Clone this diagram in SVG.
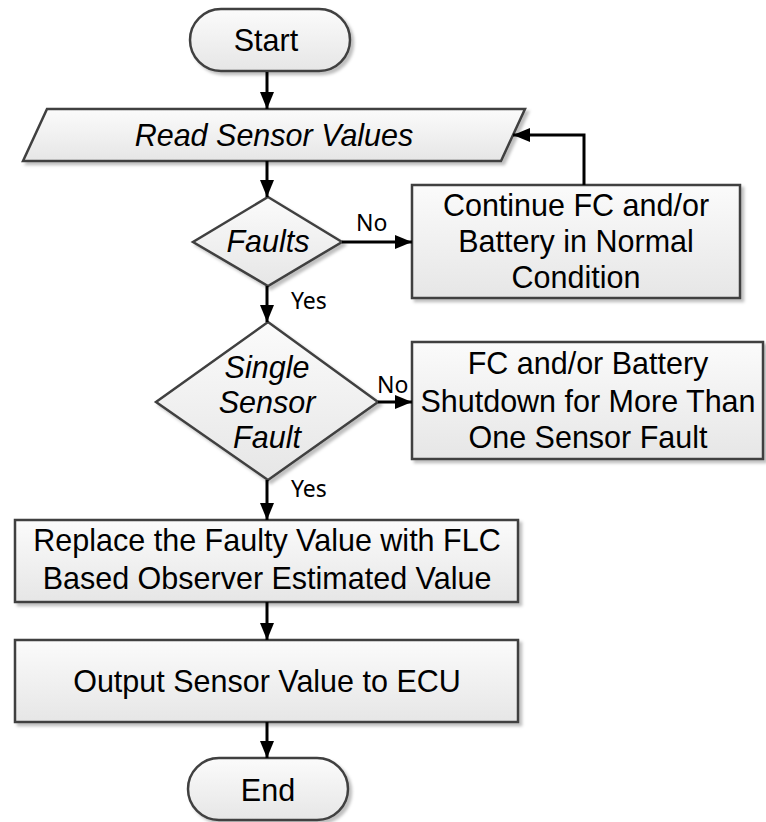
<svg xmlns="http://www.w3.org/2000/svg" width="766" height="822" viewBox="0 0 766 822">
<defs>
<linearGradient id="g" x1="0" y1="0" x2="0" y2="1">
<stop offset="0" stop-color="#fbfbfb"/>
<stop offset="1" stop-color="#e6e6e6"/>
</linearGradient>
<filter id="sh" x="-10%" y="-10%" width="130%" height="130%">
<feDropShadow dx="3" dy="3" stdDeviation="1.5" flood-color="#000" flood-opacity="0.25"/>
</filter>
<marker id="ah" markerUnits="userSpaceOnUse" markerWidth="18" markerHeight="14" refX="17" refY="7" orient="auto">
<path d="M0,0 L17,7 L0,14 Z" fill="#000"/>
</marker>
<style>
.n{fill:url(#g);stroke:#404040;stroke-width:2.5;filter:url(#sh)}
.t{font-family:"Liberation Sans",Arial,sans-serif;font-size:30.5px;fill:#000;text-anchor:middle}
.i{font-style:italic}
.l{font-family:"Noto Sans","Open Sans",sans-serif;font-size:23px;fill:#000}
.c{fill:none;stroke:#000;stroke-width:3;marker-end:url(#ah)}
</style>
</defs>
<rect width="766" height="822" fill="#fff"/>
<g id="start">
<rect class="n" x="190" y="9" width="160" height="62" rx="31"/>
<text class="t" x="266" y="51">Start</text>
</g>
<g id="read">
<polygon class="n" points="47,109 525,109 501,161 23,161"/>
<text class="t i" x="274" y="146">Read Sensor Values</text>
</g>
<g id="faults">
<polygon class="n" points="268,197 342,242 268,286 193,242"/>
<text class="t i" x="268" y="252">Faults</text>
</g>
<g id="continue">
<rect class="n" x="412" y="185" width="328" height="113"/>
<text class="t" x="576" y="216">Continue FC and/or</text>
<text class="t" x="576" y="252">Battery in Normal</text>
<text class="t" x="576" y="288">Condition</text>
</g>
<g id="single">
<polygon class="n" points="268,322 378,402 268,480 156,402"/>
<text class="t i" x="267" y="378">Single</text>
<text class="t i" x="267" y="413">Sensor</text>
<text class="t i" x="267" y="448">Fault</text>
</g>
<g id="shutdown">
<rect class="n" x="412" y="342" width="351" height="117"/>
<text class="t" x="588" y="374">FC and/or Battery</text>
<text class="t" x="588" y="412">Shutdown for More Than</text>
<text class="t" x="588" y="448">One Sensor Fault</text>
</g>
<g id="replace">
<rect class="n" x="15" y="520" width="503" height="82"/>
<text class="t" x="267" y="551">Replace the Faulty Value with FLC</text>
<text class="t" x="267" y="589">Based Observer Estimated Value</text>
</g>
<g id="output">
<rect class="n" x="15" y="640" width="503" height="82"/>
<text class="t" x="267" y="692">Output Sensor Value to ECU</text>
</g>
<g id="end">
<rect class="n" x="188" y="758" width="160" height="62" rx="31"/>
<text class="t" x="268" y="801">End</text>
</g>
<g id="connectors">
<line class="c" x1="267" y1="72" x2="267" y2="109"/>
<line class="c" x1="267" y1="161" x2="267" y2="197"/>
<polyline class="c" points="584,185 584,135 513,135"/>
<line class="c" x1="342" y1="242" x2="412" y2="242"/>
<line class="c" x1="267" y1="286" x2="267" y2="322"/>
<line class="c" x1="378" y1="402" x2="412" y2="402"/>
<line class="c" x1="267" y1="480" x2="267" y2="520"/>
<line class="c" x1="267" y1="602" x2="267" y2="640"/>
<line class="c" x1="267" y1="722" x2="267" y2="758"/>
<text class="l" x="356" y="231">No</text>
<text class="l" x="291" y="309">Yes</text>
<text class="l" x="377" y="393">No</text>
<text class="l" x="291" y="497">Yes</text>
</g>
</svg>
